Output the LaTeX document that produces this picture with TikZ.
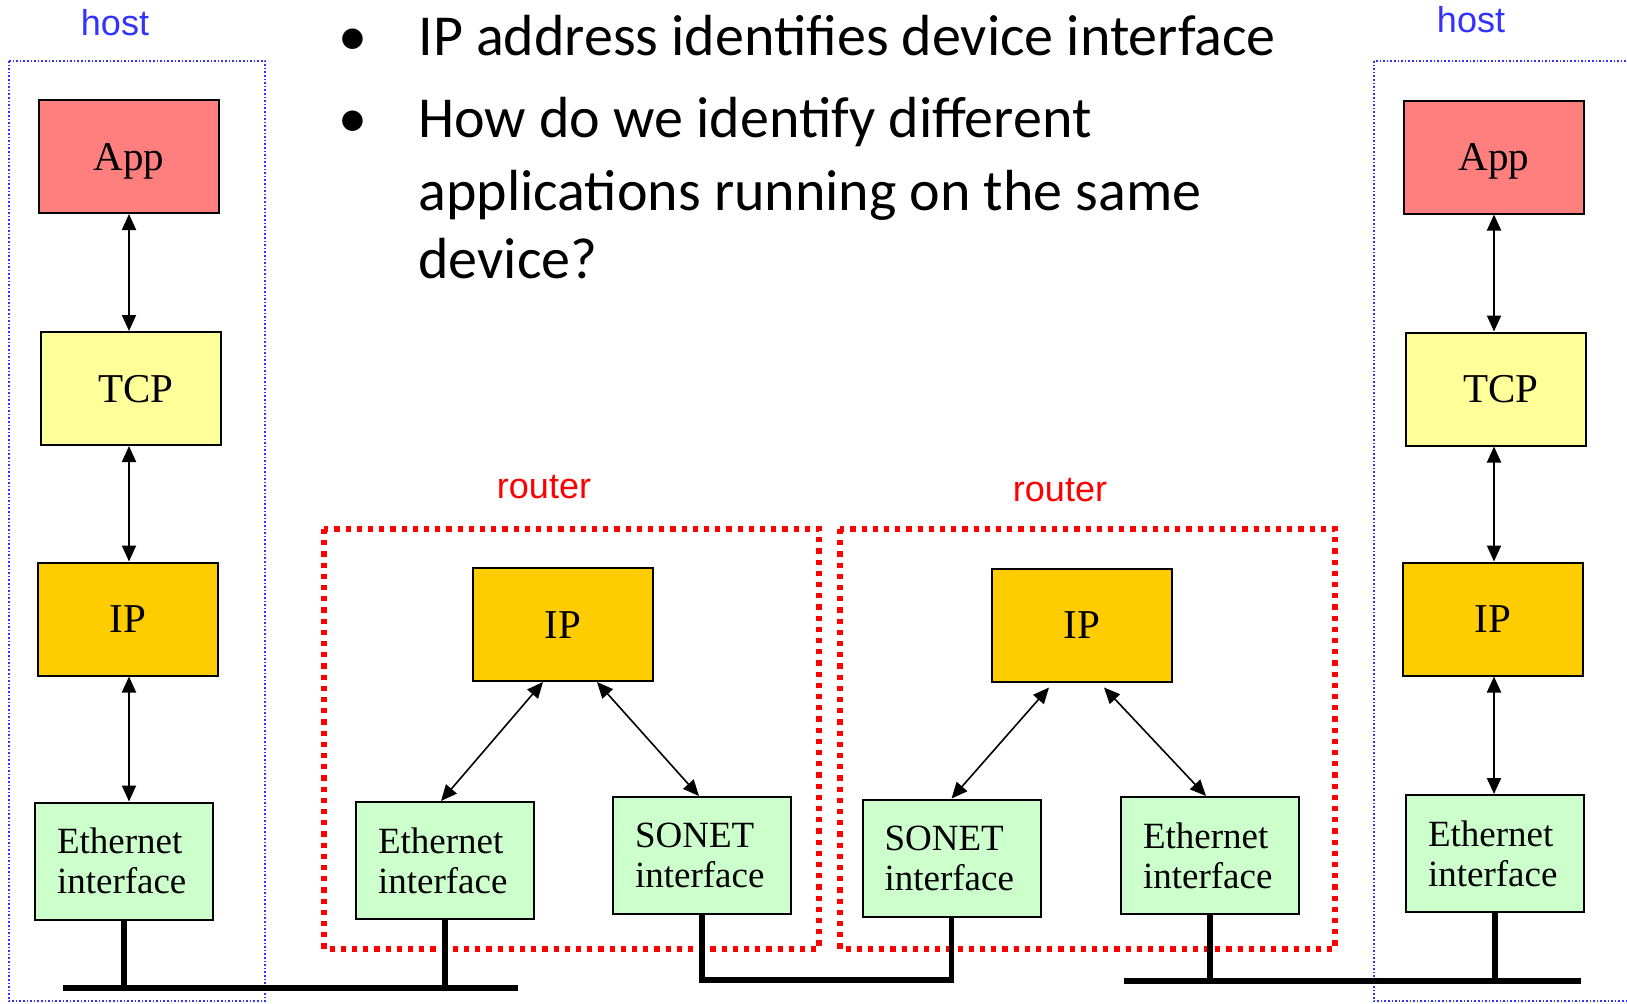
\documentclass[tikz,border=0pt]{standalone}
\usepackage{fontspec}
\setmainfont{Liberation Serif}
\newfontfamily\tagfont{Liberation Sans}
\newfontfamily\slidefont{Carlito}
\usetikzlibrary{positioning, arrows.meta}
\definecolor{appRed}{HTML}{FF7F7F}
\definecolor{tcpYellow}{HTML}{FFFF99}
\definecolor{ipGold}{HTML}{FFCC00}
\definecolor{ifaceGreen}{HTML}{CCFFCC}
\definecolor{hostBlue}{HTML}{3333FF}
\definecolor{routerRed}{HTML}{FF0000}

\begin{document}
\begin{tikzpicture}[x=0.5pt, y=-0.5pt,
    layer/.style={draw=black, line width=1pt, minimum width=90pt, minimum height=56.5pt,
      inner sep=0pt, text height=13.6pt, text depth=0pt, font=\fontsize{20.5}{24}\selectfont},
    iface/.style={draw=black, line width=1pt, fill=ifaceGreen, text width=67pt, inner xsep=11pt,
      inner ysep=0pt, minimum height=58.5pt, align=left, font=\fontsize{18.5}{20}\selectfont},
    link/.style={{Triangle[length=8pt, width=7pt]}-{Triangle[length=8pt, width=7pt]}, line width=1pt},
    thinlink/.style={link, line width=0.8pt},
    wire/.style={line width=2.8pt},
    hostframe/.style={draw=hostBlue, line width=0.8pt, densely dotted},
    routerframe/.style={draw=routerRed, line width=2.6pt, dash pattern=on 2.6pt off 3pt},
    tag/.style={anchor=base, inner sep=0pt, font=\tagfont\fontsize{18}{20}\selectfont},
    slide/.style={inner sep=0pt, font=\slidefont\fontsize{29}{35}\selectfont}]
    \useasboundingbox (0,0) rectangle (1627,1003);

    \draw[hostframe] (9,61) rectangle (265,1001);
    \draw[hostframe] (1374,61) rectangle (1640,1001);
    \draw[routerframe] (324,529) rectangle (819,949);
    \draw[routerframe] (840,529) rectangle (1335,949);

    \node[tag, text=hostBlue] (lHost) at (115,35) {host};
    \node[tag, text=hostBlue] (rHost) at (1471,32) {host};
    \node[tag, text=routerRed] (r1Tag) at (544,498) {router};
    \node[tag, text=routerRed] (r2Tag) at (1060,501) {router};

    \node[slide, anchor=base] (b1) at (353,55) {•};
    \node[slide, anchor=base west] (q1) at (418,55) {IP address identifies device interface};
    \node[slide, anchor=base] (b2) at (353,137) {•};
    \node[slide, anchor=base west] (q2a) at (418,137) {How do we identify different};
    \node[slide, anchor=base west] (q2b) at (418,210) {applications running on the same};
    \node[slide, anchor=base west] (q2c) at (418,278) {device?};

    \node[layer, fill=appRed] (lApp) at (129,156.5) {App};
    \node[layer, fill=tcpYellow] (lTcp) at (131,388.5) {\hspace{5pt}TCP};
    \node[layer, fill=ipGold] (lIp) at (128,619) {IP};
    \node[iface] (lEth) at (124,861) {Ethernet\\interface};

    \node[layer, fill=appRed] (rApp) at (1494,157) {App};
    \node[layer, fill=tcpYellow] (rTcp) at (1496,389) {\hspace{5pt}TCP};
    \node[layer, fill=ipGold] (rIp) at (1493,619) {IP};
    \node[iface] (rEth) at (1495,853.5) {Ethernet\\interface};

    \node[layer, fill=ipGold] (r1Ip) at (563,624.5) {IP};
    \node[iface] (r1Eth) at (445,860.5) {Ethernet\\interface};
    \node[iface] (r1Sonet) at (702,855.5) {SONET\\interface};

    \node[layer, fill=ipGold] (r2Ip) at (1082,625) {IP};
    \node[iface] (r2Sonet) at (951.5,858) {SONET\\interface};
    \node[iface] (r2Eth) at (1210,855.5) {Ethernet\\interface};

    \draw[link] (lApp.south) -- (lApp.south |- lTcp.north);
    \draw[link] (lApp.south |- lTcp.south) -- (lApp.south |- lIp.north);
    \draw[link] (lApp.south |- lIp.south) -- (lApp.south |- lEth.north);
    \draw[link] (rApp.south) -- (rApp.south |- rTcp.north);
    \draw[link] (rApp.south |- rTcp.south) -- (rApp.south |- rIp.north);
    \draw[link] (rApp.south |- rIp.south) -- (rApp.south |- rEth.north);

    \draw[thinlink] ([xshift=-10pt]r1Ip.south) -- ([xshift=-2pt]r1Eth.north);
    \draw[thinlink] ([xshift=17pt]r1Ip.south) -- ([xshift=-1.5pt]r1Sonet.north);
    \draw[thinlink] ([xshift=-16.5pt, yshift=-2.5pt]r2Ip.south) -- (r2Sonet.north);
    \draw[thinlink] ([xshift=11pt, yshift=-2.5pt]r2Ip.south) -- ([xshift=-2pt]r2Eth.north);

    \coordinate (lanL) at (63,988);
    \coordinate (lanLend) at (518,988);
    \coordinate (wanY) at (0,980);
    \coordinate (lanR) at (1124,981);
    \coordinate (lanRend) at (1581,981);
    \draw[wire] (lanL) -- (lanLend);
    \draw[wire] (lEth.south) -- (lEth.south |- lanL);
    \draw[wire] (r1Eth.south) -- (r1Eth.south |- lanL);
    \draw[wire] (r1Sonet.south) -- (r1Sonet.south |- wanY) -| (r2Sonet.south);
    \draw[wire] (lanR) -- (lanRend);
    \draw[wire] (r2Eth.south) -- (r2Eth.south |- lanR);
    \draw[wire] (rEth.south) -- (rEth.south |- lanR);
  \end{tikzpicture}
\end{document}
